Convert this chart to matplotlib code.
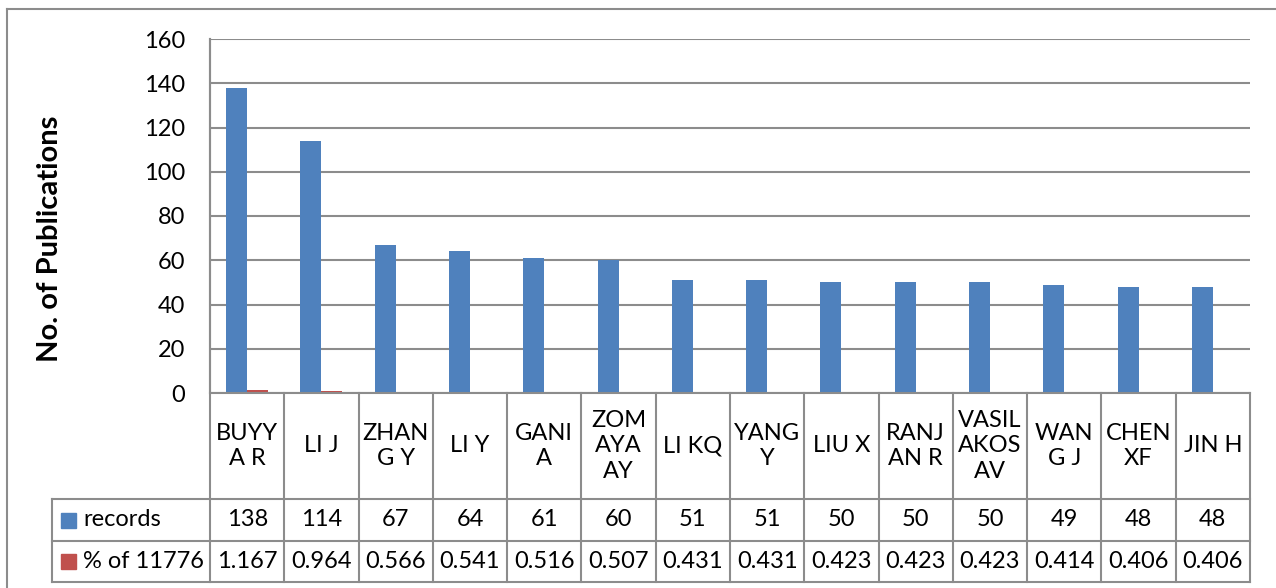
import matplotlib.pyplot as plt
import numpy as np
from matplotlib.lines import Line2D
from matplotlib.patches import Rectangle
from matplotlib.transforms import blended_transform_factory

plt.rcParams['font.family'] = ['Lato', 'DejaVu Sans']

# data
authors = ["BUYY\nA R", "LI J", "ZHAN\nG Y", "LI Y", "GANI\nA", "ZOM\nAYA\nAY", "LI KQ",
           "YANG\nY", "LIU X", "RANJ\nAN R", "VASIL\nAKOS\nAV", "WAN\nG J", "CHEN\nXF", "JIN H"]
records = [138, 114, 67, 64, 61, 60, 51, 51, 50, 50, 50, 49, 48, 48]
percent = [1.167, 0.964, 0.566, 0.541, 0.516, 0.507, 0.431, 0.431, 0.423, 0.423, 0.423, 0.414, 0.406, 0.406]
pct_labels = ["1.167", "0.964", "0.566", "0.541", "0.516", "0.507", "0.431", "0.431",
              "0.423", "0.423", "0.423", "0.414", "0.406", "0.406"]
series_names = ["records", "% of 11776"]

blue = "#4F81BD"
red = "#C0504D"
grey = "#8C8C8C"
fs = 17

W, H = 1276, 588
fig = plt.figure(figsize=(W / 100, H / 100), dpi=100)


def fy(y):  # pixel row -> figure fraction
    return 1 - y / H


def fx(x):
    return x / W


left, right, top, bottom = 210, 1250, 39, 393
ax = fig.add_axes([fx(left), fy(bottom), fx(right - left), fy(top) - fy(bottom)])

n = len(authors)
x = np.arange(n)
w = 0.283
ax.bar(x - w / 2, records, w, color=blue, zorder=3)
ax.bar(x + w / 2, percent, w, color=red, zorder=3)

ax.set_xlim(-0.5, n - 0.5)
ax.set_ylim(0, 160)
ax.set_yticks(range(0, 161, 20))
ax.set_xticks([])
ax.tick_params(axis='y', length=0, pad=18, labelsize=fs)
ax.yaxis.grid(True, color=grey, lw=1.5, zorder=0)
for s in ["top", "right", "bottom"]:
    ax.spines[s].set_visible(False)
ax.spines["left"].set_color(grey)
ax.spines["left"].set_linewidth(1.5)

fig.text(fx(50), fy(239), "No. of Publications", rotation=90, ha='center', va='center',
         fontsize=21, fontweight='bold')

# data table under the chart
tr = blended_transform_factory(ax.transData, fig.transFigure)
row_cat, row_rec, row_pct, row_end = 393, 499, 541, 582
leg_left = 52


def hline(x0, x1, y):
    fig.add_artist(Line2D([fx(x0), fx(x1)], [fy(y), fy(y)], color=grey, lw=1.5))


def vline(xp, y0, y1):
    fig.add_artist(Line2D([fx(xp), fx(xp)], [fy(y0), fy(y1)], color=grey, lw=1.5))


hline(leg_left, right, row_rec)
hline(leg_left, right, row_pct)
hline(leg_left, right, row_end)
hline(left, right, row_cat)
vline(leg_left, row_rec, row_end)
vline(left, top, row_end)
for i in range(1, n + 1):
    xp = left + i * (right - left) / n
    vline(xp, row_cat, row_end)

for i in range(n):
    fig.text(i, fy((row_cat + row_rec) / 2), authors[i], transform=tr, ha='center', va='center',
             fontsize=fs, linespacing=1.25)
    fig.text(i, fy((row_rec + row_pct) / 2), str(records[i]), transform=tr, ha='center',
             va='center', fontsize=fs)
    fig.text(i, fy((row_pct + row_end) / 2), pct_labels[i], transform=tr, ha='center',
             va='center', fontsize=fs)

# legend keys in the table
for yc, col, name in [((row_rec + row_pct) / 2, blue, series_names[0]),
                      ((row_pct + row_end) / 2, red, series_names[1])]:
    fig.add_artist(Rectangle((fx(61), fy(yc + 7.5)), fx(15), 15 / H, color=col,
                             transform=fig.transFigure))
    fig.text(fx(83), fy(yc), name, ha='left', va='center', fontsize=fs)

# chart border
fig.add_artist(Line2D([fx(7), fx(W)], [fy(9), fy(9)], color=grey, lw=1.5))
fig.add_artist(Line2D([fx(7), fx(7)], [fy(9), fy(H)], color=grey, lw=1.5))

fig.savefig("out.png", dpi=100)
